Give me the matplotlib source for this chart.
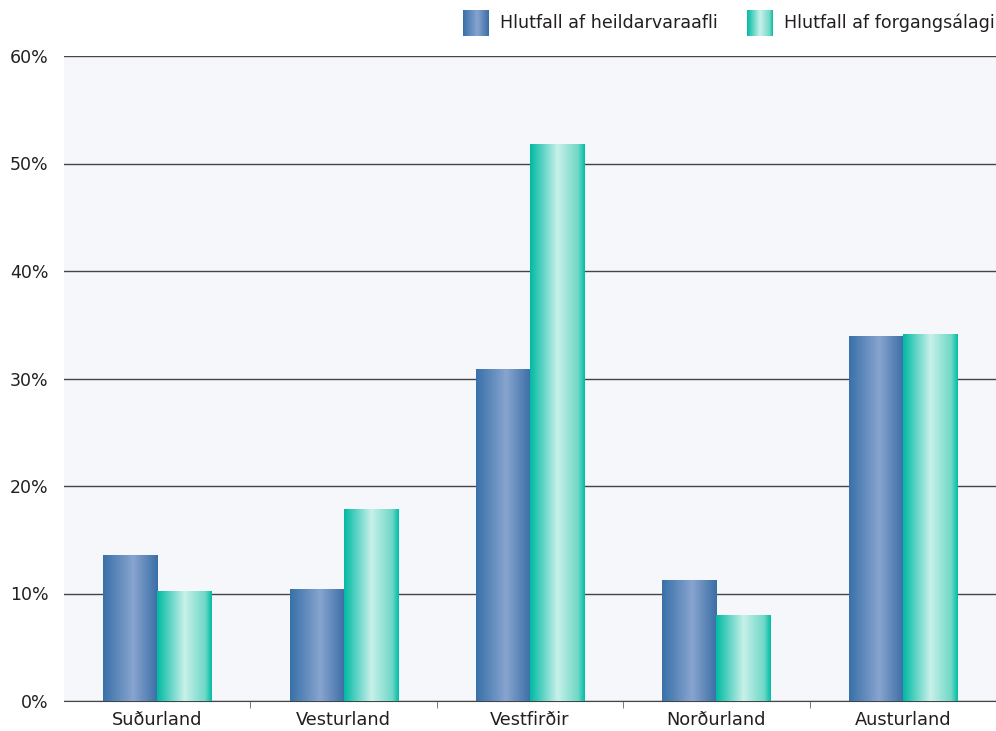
import numpy as np
import matplotlib.pyplot as plt
from matplotlib.colors import LinearSegmentedColormap

plt.rcParams['font.family'] = ['DejaVu Sans']

regions = ["Suðurland", "Vesturland", "Vestfirðir", "Norðurland", "Austurland"]
heild = [13.6, 10.4, 30.9, 11.3, 34.0]
forgangs = [10.2, 17.9, 51.8, 8.0, 34.1]
labels = ["Hlutfall af heildarvaraafli", "Hlutfall af forgangsálagi"]

blue_cmap = LinearSegmentedColormap.from_list(
    "b", [(0, "#3870a8"), (0.55, "#88a4cf"), (1, "#3a6ea6")])
teal_cmap = LinearSegmentedColormap.from_list(
    "t", [(0, "#00baa3"), (0.5, "#c8f1ea"), (0.88, "#6fd7c6"), (1, "#00bda6")])
grad = np.linspace(0, 1, 256).reshape(1, -1)

fig = plt.figure(figsize=(9.96, 7.31), dpi=100)
ax = fig.add_axes([64 / 996, 30 / 731, 932 / 996, 645 / 731])
ax.set_facecolor("#f6f7fb")

x = np.arange(len(regions))
w = 0.29


def gradient_bars(xs, vals, cmap):
    bars = ax.bar(xs, vals, w, color="none", linewidth=0, zorder=3)
    for b in bars:
        x0, y0 = b.get_x(), b.get_y()
        im = ax.imshow(grad, cmap=cmap, aspect="auto", zorder=3,
                       extent=[x0, x0 + b.get_width(), y0, y0 + b.get_height()])
        im.set_clip_path(b)


gradient_bars(x - w / 2, heild, blue_cmap)
gradient_bars(x + w / 2, forgangs, teal_cmap)

txt = "#231f20"
ax.set_xlim(-0.5, len(regions) - 0.5)
ax.set_ylim(0, 60)
ax.set_yticks(range(0, 61, 10))
ax.set_yticklabels([f"{v}%" for v in range(0, 61, 10)])
ax.yaxis.grid(True, color="#444444", linewidth=1)
ax.set_axisbelow(True)
ax.set_xticks(x)
ax.set_xticklabels(regions)
ax.set_xticks(np.arange(0.5, len(regions) - 1, 1), minor=True)
ax.tick_params(axis="x", which="major", length=0, pad=7, labelsize=12.8, colors=txt)
ax.tick_params(axis="x", which="minor", length=5, color="#666666")
ax.tick_params(axis="y", length=0, pad=11, labelsize=12.5, colors=txt)
for s in ["top", "right", "left"]:
    ax.spines[s].set_visible(False)
ax.spines["bottom"].set_color("#444444")

# legend with gradient swatches
for i, (cmap, lx, tx) in enumerate([(blue_cmap, 463, 500), (teal_cmap, 747, 784)]):
    sw = fig.add_axes([lx / 996, 1 - 36 / 731, 26 / 996, 26 / 731])
    sw.imshow(grad, cmap=cmap, aspect="auto")
    sw.axis("off")
    fig.text(tx / 996, 1 - 23 / 731, labels[i], fontsize=12.6, color=txt, va="center")

fig.savefig("out.png", dpi=100)
